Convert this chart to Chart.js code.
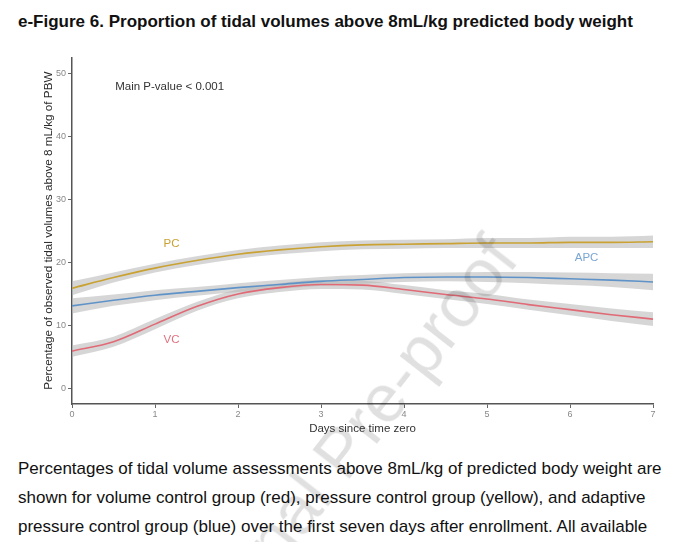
<!DOCTYPE html>
<html>
<head>
<meta charset="utf-8">
<script src="https://cdn.jsdelivr.net/npm/chart.js@4.4.1/dist/chart.umd.min.js"></script>
<style>
  html, body { margin:0; padding:0; background:#fff; width:680px; height:542px; overflow:hidden; position:relative; font-family:"Liberation Sans", Arial, sans-serif; }
  #title { position:absolute; left:18px; top:12px; font-weight:bold; font-size:17px; color:#111; white-space:nowrap; }
  #wrap { position:absolute; left:0; top:50px; width:680px; height:390px; }
  #para { position:absolute; left:18px; top:454px; font-size:17px; line-height:29px; color:#111; white-space:nowrap; }
  #wm { position:absolute; left:340px; top:452px; transform:translate(-50%,-50%) rotate(-52deg); font-size:68px; color:rgba(0,0,0,0.12); white-space:nowrap; pointer-events:none; }
</style>
</head>
<body>
<div id="title">e-Figure 6. Proportion of tidal volumes above 8mL/kg predicted body weight</div>
<div id="wrap"><canvas id="c"></canvas></div>
<div id="para">Percentages of tidal volume assessments above 8mL/kg of predicted body weight are<br>shown for volume control group (red), pressure control group (yellow), and adaptive<br>pressure control group (blue) over the first seven days after enrollment. All available</div>
<div id="wm">Journal Pre-proof</div>
<script>
const days = [0,0.5,1,1.5,2,2.5,3,3.5,4,4.5,5,5.5,6,6.5,7];
const pcMean  = [15.9,17.6,19.1,20.3,21.3,22.0,22.5,22.8,22.9,23.0,23.1,23.1,23.2,23.2,23.3];
const pcLow   = [14.8,16.8,18.4,19.6,20.6,21.3,21.8,22.1,22.2,22.3,22.3,22.3,22.3,22.3,22.3];
const pcHigh  = [17.0,18.4,19.8,21.0,22.0,22.7,23.2,23.5,23.6,23.7,23.9,23.9,24.1,24.1,24.3];
const apcMean = [13.1,14.0,14.8,15.4,16.0,16.5,17.0,17.3,17.6,17.7,17.7,17.6,17.4,17.2,16.9];
const apcLow  = [11.9,13.1,14.0,14.7,15.3,15.8,16.3,16.6,16.9,17.0,16.9,16.7,16.4,16.1,15.6];
const apcHigh = [14.3,14.9,15.6,16.1,16.7,17.2,17.7,18.0,18.3,18.4,18.5,18.5,18.4,18.3,18.2];
const vcMean  = [5.9,7.4,10.2,13.0,15.0,16.0,16.5,16.4,15.7,14.9,14.2,13.3,12.5,11.7,11.0];
const vcLow   = [5.0,6.6,9.4,12.3,14.3,15.3,15.8,15.7,15.0,14.2,13.4,12.5,11.6,10.7,9.9];
const vcHigh  = [6.8,8.2,11.0,13.7,15.7,16.7,17.2,17.1,16.4,15.6,15.0,14.1,13.4,12.7,12.1];
const xTicks = [0,1,2,3,4,5,6,7];
const yTicks = [0,10,20,30,40,50];
const labels = [
  {text:'Main P-value < 0.001', x:0.52, y:48.0, color:'#333', align:'left', size:11.5},
  {text:'PC',  x:1.2, y:22.9, color:'#c9a233', align:'center', size:11.5},
  {text:'VC',  x:1.2, y:7.7,  color:'#e0707f', align:'center', size:11.5},
  {text:'APC', x:6.2, y:20.8, color:'#7aa6d2', align:'center', size:11.5}
];

const pts = arr => arr.map((v,i)=>({x:days[i], y:v}));
const bandColor = 'rgba(180,180,180,0.55)';
function band(low, high){
  return [
    {data:pts(low), borderWidth:0, pointRadius:0, fill:false, tension:0.4, cubicInterpolationMode:'monotone', order:2},
    {data:pts(high), borderWidth:0, pointRadius:0, fill:'-1', backgroundColor:bandColor, tension:0.4, cubicInterpolationMode:'monotone', order:2}
  ];
}
function line(arr, color){
  return {data:pts(arr), borderColor:color, borderWidth:1.6, pointRadius:0, fill:false, tension:0.4, cubicInterpolationMode:'monotone', order:0};
}

const labelPlugin = {
  id:'labels',
  afterDatasetsDraw(chart){
    const {ctx, scales:{x, y}} = chart;
    ctx.save();
    labels.forEach(l=>{
      ctx.font = l.size + 'px "Liberation Sans", Arial, sans-serif';
      ctx.fillStyle = l.color;
      ctx.textAlign = l.align;
      ctx.textBaseline = 'middle';
      ctx.fillText(l.text, x.getPixelForValue(l.x), y.getPixelForValue(l.y));
    });
    ctx.restore();
  }
};
const bgPlugin = {
  id:'bg',
  beforeDraw(chart){ const c=chart.ctx; c.save(); c.fillStyle='#fff'; c.fillRect(0,0,chart.width,chart.height); c.restore(); }
};

const fontFam = '"Liberation Sans", Arial, sans-serif';
new Chart(document.getElementById('c'), {
  type:'line',
  data:{ datasets:[
    ...band(pcLow, pcHigh), ...band(apcLow, apcHigh), ...band(vcLow, vcHigh),
    line(pcMean,'#c9a233'), line(apcMean,'#5f93c8'), line(vcMean,'#e06a76')
  ]},
  options:{
    responsive:true, maintainAspectRatio:false, animation:false,
    layout:{padding:{top:5, right:27, left:42, bottom:4}},
    plugins:{legend:{display:false}, tooltip:{enabled:false}, filler:{propagate:false}},
    scales:{
      x:{
        type:'linear', min:0, max:7,
        afterBuildTicks(s){ s.ticks = xTicks.map(v=>({value:v})); },
        afterFit(s){ s.height = 32; },
        grid:{drawOnChartArea:false, drawTicks:true, tickLength:4, color:'#666', lineWidth:1},
        border:{display:true, color:'#555', width:1.5},
        ticks:{color:'#888', font:{size:9, family:fontFam}, padding:1, maxRotation:0},
        title:{display:true, text:'Days since time zero', color:'#333', font:{size:11.5, family:fontFam}, padding:{top:0, bottom:0}}
      },
      y:{
        type:'linear', min:-2.5, max:52.6,
        afterBuildTicks(s){ s.ticks = yTicks.map(v=>({value:v})); },
        afterFit(s){ s.width = 30; },
        grid:{drawOnChartArea:false, drawTicks:true, tickLength:4, color:'#666', lineWidth:1},
        border:{display:true, color:'#555', width:1.5},
        ticks:{color:'#888', font:{size:9, family:fontFam}, padding:2},
        title:{display:true, text:'Percentage of observed tidal volumes above 8 mL/kg of PBW', color:'#2a2a2a', font:{size:11.7, family:fontFam}, padding:{top:0,bottom:0}}
      }
    }
  },
  plugins:[bgPlugin, labelPlugin]
});
</script>
</body>
</html>
